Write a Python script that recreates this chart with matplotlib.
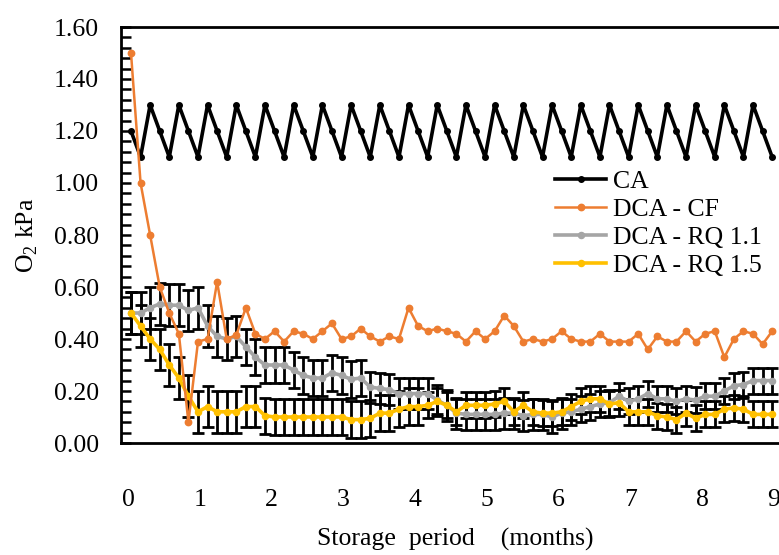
import numpy as np
import matplotlib
matplotlib.use("Agg")
import matplotlib.pyplot as plt
from matplotlib.ticker import MultipleLocator, FormatStrFormatter

# sampling days (every 4 days over ~9 months)
days = np.arange(0, 272, 4)

ca = [1.20,
      1.10, 1.30, 1.20, 1.10, 1.30, 1.20, 1.10, 1.30, 1.20, 1.10, 1.30, 1.20,
      1.10, 1.30, 1.20, 1.10, 1.30, 1.20, 1.10, 1.30, 1.20, 1.10, 1.30, 1.20,
      1.10, 1.30, 1.20, 1.10, 1.30, 1.20, 1.10, 1.30, 1.20, 1.10, 1.30, 1.20,
      1.10, 1.30, 1.20, 1.10, 1.30, 1.20, 1.10, 1.30, 1.20, 1.10, 1.30, 1.20,
      1.10, 1.30, 1.20, 1.10, 1.30, 1.20, 1.10, 1.30, 1.20, 1.10, 1.30, 1.20,
      1.10, 1.30, 1.20, 1.10, 1.30, 1.20,
      1.10]

dca_cf = [1.50, 1.00, 0.80, 0.60, 0.50, 0.42, 0.08, 0.39, 0.40, 0.62,
          0.40, 0.415, 0.52, 0.42, 0.40, 0.43, 0.39, 0.43, 0.42, 0.40,
          0.43, 0.46, 0.40, 0.41, 0.44, 0.41, 0.39, 0.41, 0.40, 0.52,
          0.45, 0.43, 0.44, 0.43, 0.42, 0.39, 0.43, 0.40, 0.43, 0.49,
          0.45, 0.39, 0.40, 0.39, 0.40, 0.43, 0.40, 0.39, 0.39, 0.42,
          0.39, 0.39, 0.39, 0.42, 0.36, 0.41, 0.39, 0.39, 0.43, 0.39,
          0.42, 0.43, 0.33, 0.40, 0.43, 0.42, 0.38, 0.43]

rq11 = [0.50, 0.50, 0.52, 0.535, 0.53, 0.53, 0.51, 0.52, 0.45, 0.41,
        0.40, 0.41, 0.37, 0.33, 0.30, 0.30, 0.30, 0.28, 0.26, 0.25,
        0.25, 0.27, 0.26, 0.245, 0.25, 0.215, 0.21, 0.205, 0.19, 0.19,
        0.19, 0.19, 0.165, 0.145, 0.115, 0.11, 0.11, 0.11, 0.11, 0.115,
        0.115, 0.105, 0.11, 0.11, 0.10, 0.115, 0.12, 0.13, 0.14, 0.15,
        0.155, 0.18, 0.16, 0.17, 0.19, 0.17, 0.17, 0.16, 0.17, 0.165,
        0.18, 0.18, 0.20, 0.22, 0.225, 0.24, 0.24, 0.24]
rq11_err = [0.08] * 12 + [0.07] * 13 + [0.06] * 21 + [0.05] * 22

rq15 = [0.50, 0.45, 0.40, 0.36, 0.30, 0.25, 0.18, 0.12, 0.14, 0.12,
        0.12, 0.12, 0.14, 0.14, 0.105, 0.10, 0.10, 0.10, 0.10, 0.10,
        0.10, 0.10, 0.10, 0.09, 0.09, 0.095, 0.115, 0.115, 0.13, 0.14,
        0.14, 0.145, 0.16, 0.145, 0.12, 0.145, 0.145, 0.145, 0.15, 0.16,
        0.12, 0.145, 0.12, 0.115, 0.115, 0.12, 0.14, 0.16, 0.17, 0.17,
        0.15, 0.155, 0.12, 0.12, 0.12, 0.105, 0.10, 0.09, 0.115, 0.095,
        0.11, 0.11, 0.13, 0.135, 0.13, 0.11, 0.11, 0.11]
rq15_err = [0.08] * 14 + [0.07] * 17 + [0.05] * 37

month_labels = ["0", "1", "2", "3", "4", "5", "6", "7", "8", "9"]

plt.rcParams["font.family"] = ["Liberation Serif", "DejaVu Serif"]
plt.rcParams["mathtext.fontset"] = "custom"
plt.rcParams["mathtext.rm"] = "Liberation Serif"
plt.rcParams["font.size"] = 18.5

fig = plt.figure(figsize=(7.79, 5.55), dpi=100)
ax = fig.add_axes([121 / 779, 112 / 555, 658 / 779, 416 / 555])

ebkw = dict(fmt="none", ecolor="black", elinewidth=2.0, capsize=4.0, capthick=2.0, zorder=2)
ax.errorbar(days, rq11, yerr=rq11_err, **ebkw)
ax.errorbar(days, rq15, yerr=rq15_err, **ebkw)

ax.plot(days, ca, color="black", lw=2.6, marker="o", ms=4.0, label="CA", zorder=4)
ax.plot(days, dca_cf, color="#ED7D31", lw=1.8, marker="o", ms=4.6, label="DCA - CF", zorder=5)
ax.plot(days, rq11, color="#A5A5A5", lw=2.6, marker="o", ms=4.4, label="DCA - RQ 1.1", zorder=3)
ax.plot(days, rq15, color="#FFC000", lw=2.6, marker="o", ms=4.4, label="DCA - RQ 1.5", zorder=3.5)

ax.set_ylim(0, 1.6)
ax.set_xlim(-4.18, 270.85)
ax.yaxis.set_major_locator(MultipleLocator(0.2))
ax.yaxis.set_minor_locator(MultipleLocator(0.04))
ax.yaxis.set_major_formatter(FormatStrFormatter("%.2f"))
ax.tick_params(axis="y", which="both", direction="in", length=7, width=1.8, pad=16)

ax.set_xticks(np.arange(10) * 30 - 1.25)
ax.set_xticklabels(month_labels)
ax.tick_params(axis="x", length=0, pad=33)

for s in ["left", "top", "bottom"]:
    ax.spines[s].set_linewidth(2.0)
ax.spines["right"].set_visible(False)

ax.set_ylabel("O$_2$ kPa", labelpad=10)
fig.text(455 / 779, 1 - 539 / 555, "Storage  period    (months)", ha="center", va="center")

ax.legend(loc="upper left", bbox_to_anchor=(555 / 779, 1 - 170 / 555), bbox_transform=fig.transFigure,
          frameon=False, borderpad=0, borderaxespad=0, handlelength=2.0, handletextpad=0.25,
          labelspacing=0.2)

fig.savefig("out.png", dpi=100)
